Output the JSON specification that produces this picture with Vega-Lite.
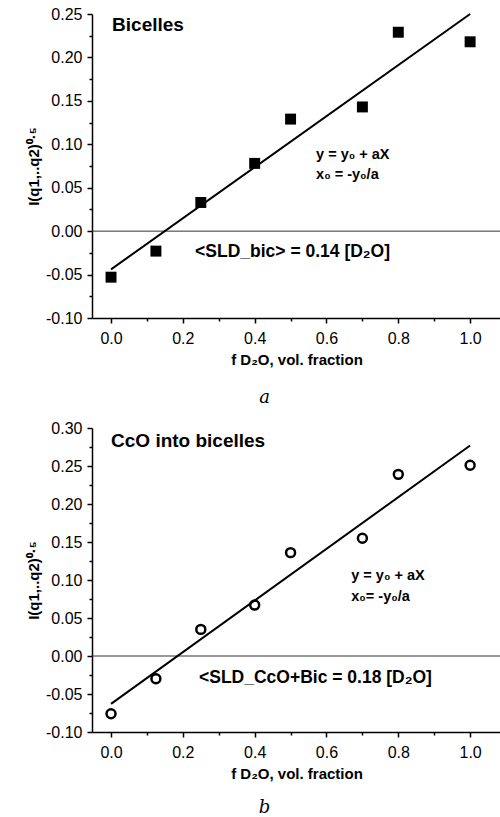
{
  "$schema": "https://vega.github.io/schema/vega-lite/v6.json",
  "padding": {"left": 26, "top": 6, "right": 0, "bottom": 0},
  "spacing": 13,
  "background": "white",
  "config": {
    "view": {"stroke": null},
    "font": "Liberation Sans",
    "axis": {
      "grid": false,
      "domainColor": "black",
      "domainWidth": 1.5,
      "tickColor": "black",
      "tickWidth": 1.5,
      "labelFont": "Liberation Sans",
      "labelFontSize": 16,
      "labelColor": "black",
      "labelOverlap": false,
      "labelFlush": false,
      "titleFont": "Liberation Sans",
      "titleFontSize": 15,
      "titleFontWeight": "bold",
      "titleColor": "black"
    }
  },
  "datasets": {
    "ptsA": [
      {"x": 0, "y": -0.053}, {"x": 0.125, "y": -0.023}, {"x": 0.25, "y": 0.033}, {"x": 0.4, "y": 0.078},
      {"x": 0.5, "y": 0.129}, {"x": 0.7, "y": 0.143}, {"x": 0.8, "y": 0.229}, {"x": 1.0, "y": 0.218}
    ],
    "fitA": [{"x": 0, "y": -0.044}, {"x": 1, "y": 0.25}],
    "txtA": [
      {"x": 0.003, "y": 0.237, "label": "Bicelles", "kind": "title"},
      {"x": 0.571, "y": 0.0876, "label": "y = y₀ + aX", "kind": "formula"},
      {"x": 0.571, "y": 0.0645, "label": "x₀ = -y₀/a", "kind": "formula"},
      {"x": 0.234, "y": -0.024, "label": "<SLD_bic> = 0.14 [D₂O]", "kind": "result"}
    ],
    "ptsB": [
      {"x": 0, "y": -0.076}, {"x": 0.125, "y": -0.030}, {"x": 0.25, "y": 0.035}, {"x": 0.4, "y": 0.067},
      {"x": 0.5, "y": 0.136}, {"x": 0.7, "y": 0.155}, {"x": 0.8, "y": 0.239}, {"x": 1.0, "y": 0.251}
    ],
    "fitB": [{"x": 0, "y": -0.063}, {"x": 1, "y": 0.277}],
    "txtB": [
      {"x": 0.0, "y": 0.283, "label": "CcO into bicelles", "kind": "title"},
      {"x": 0.669, "y": 0.105, "label": "y = y₀ + aX", "kind": "formula"},
      {"x": 0.669, "y": 0.078, "label": "x₀= -y₀/a", "kind": "formula"},
      {"x": 0.245, "y": -0.029, "label": "<SLD_CcO+Bic = 0.18 [D₂O]", "kind": "result"}
    ]
  },
  "vconcat": [
    {
      "width": 409,
      "height": 304,
      "title": {"text": "a", "orient": "bottom", "font": "DejaVu Serif", "fontStyle": "italic", "fontWeight": "normal", "fontSize": 18, "color": "black", "dx": -32, "offset": 22},
      "layer": [
        {
          "data": {"values": [{}]},
          "mark": {"type": "rule", "color": "#333333", "strokeWidth": 1},
          "encoding": {"y": {"datum": 0, "type": "quantitative"}}
        },
        {
          "data": {"name": "fitA"},
          "mark": {"type": "line", "color": "black", "strokeWidth": 2},
          "encoding": {
            "x": {"field": "x", "type": "quantitative"},
            "y": {"field": "y", "type": "quantitative"}
          }
        },
        {
          "data": {"name": "ptsA"},
          "mark": {"type": "square", "filled": true, "color": "black", "size": 120, "opacity": 1},
          "encoding": {
            "x": {
              "field": "x", "type": "quantitative",
              "scale": {"domain": [-0.053, 1.086], "nice": false, "zero": false},
              "axis": {
                "title": "f  D₂O, vol. fraction",
                "values": [0, 0.1, 0.2, 0.3, 0.4, 0.5, 0.6, 0.7, 0.8, 0.9, 1.0],
                "tickCount": 100,
                "labelExpr": "round(datum.value*10)%2==1 ? '' : format(datum.value,'.1f')",
                "tickSize": {"condition": {"test": "round(datum.value*10)%2==1", "value": 3}, "value": 5},
                "labelPadding": 7,
                "titlePadding": 6
              }
            },
            "y": {
              "field": "y", "type": "quantitative",
              "scale": {"domain": [-0.1, 0.25], "nice": false, "zero": false},
              "axis": {
                "title": "I(q1,..q2)⁰·⁵",
                "values": [-0.1, -0.075, -0.05, -0.025, 0, 0.025, 0.05, 0.075, 0.1, 0.125, 0.15, 0.175, 0.2, 0.225, 0.25],
                "tickCount": 100,
                "labelExpr": "abs(round(datum.value*40))%2==1 ? '' : replace(format(datum.value,'.2f'),'−','-')",
                "tickSize": {"condition": {"test": "abs(round(datum.value*40))%2==1", "value": 3}, "value": 5},
                "labelPadding": 5,
                "titlePadding": 4
              }
            }
          }
        },
        {
          "data": {"name": "txtA"},
          "mark": {"type": "text", "align": "left", "baseline": "middle", "fontWeight": "bold", "color": "black", "font": "Liberation Sans"},
          "encoding": {
            "x": {"field": "x", "type": "quantitative"},
            "y": {"field": "y", "type": "quantitative"},
            "text": {"field": "label"},
            "size": {"field": "kind", "type": "nominal", "scale": {"type": "ordinal", "domain": ["title", "formula", "result"], "range": [19, 14.5, 17.5]}, "legend": null}
          }
        }
      ]
    },
    {
      "width": 409,
      "height": 304,
      "title": {"text": "b", "orient": "bottom", "font": "DejaVu Serif", "fontStyle": "italic", "fontWeight": "normal", "fontSize": 18, "color": "black", "dx": -32, "offset": 18},
      "layer": [
        {
          "data": {"values": [{}]},
          "mark": {"type": "rule", "color": "#333333", "strokeWidth": 1},
          "encoding": {"y": {"datum": 0, "type": "quantitative"}}
        },
        {
          "data": {"name": "fitB"},
          "mark": {"type": "line", "color": "black", "strokeWidth": 2},
          "encoding": {
            "x": {"field": "x", "type": "quantitative"},
            "y": {"field": "y", "type": "quantitative"}
          }
        },
        {
          "data": {"name": "ptsB"},
          "mark": {"type": "point", "shape": "circle", "filled": false, "color": "black", "size": 80, "strokeWidth": 2.5, "opacity": 1},
          "encoding": {
            "x": {
              "field": "x", "type": "quantitative",
              "scale": {"domain": [-0.053, 1.086], "nice": false, "zero": false},
              "axis": {
                "title": "f  D₂O, vol. fraction",
                "values": [0, 0.1, 0.2, 0.3, 0.4, 0.5, 0.6, 0.7, 0.8, 0.9, 1.0],
                "tickCount": 100,
                "labelExpr": "round(datum.value*10)%2==1 ? '' : format(datum.value,'.1f')",
                "tickSize": {"condition": {"test": "round(datum.value*10)%2==1", "value": 3}, "value": 5},
                "labelPadding": 7,
                "titlePadding": 6
              }
            },
            "y": {
              "field": "y", "type": "quantitative",
              "scale": {"domain": [-0.1, 0.3], "nice": false, "zero": false},
              "axis": {
                "title": "I(q1,..q2)⁰·⁵",
                "values": [-0.1, -0.075, -0.05, -0.025, 0, 0.025, 0.05, 0.075, 0.1, 0.125, 0.15, 0.175, 0.2, 0.225, 0.25, 0.275, 0.3],
                "tickCount": 100,
                "labelExpr": "abs(round(datum.value*40))%2==1 ? '' : replace(format(datum.value,'.2f'),'−','-')",
                "tickSize": {"condition": {"test": "abs(round(datum.value*40))%2==1", "value": 3}, "value": 5},
                "labelPadding": 5,
                "titlePadding": 4
              }
            }
          }
        },
        {
          "data": {"name": "txtB"},
          "mark": {"type": "text", "align": "left", "baseline": "middle", "fontWeight": "bold", "color": "black", "font": "Liberation Sans"},
          "encoding": {
            "x": {"field": "x", "type": "quantitative"},
            "y": {"field": "y", "type": "quantitative"},
            "text": {"field": "label"},
            "size": {"field": "kind", "type": "nominal", "scale": {"type": "ordinal", "domain": ["title", "formula", "result"], "range": [19, 14.5, 17.5]}, "legend": null}
          }
        }
      ]
    }
  ]
}
